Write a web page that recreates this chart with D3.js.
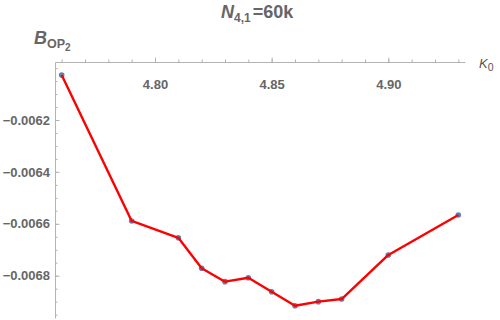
<!DOCTYPE html>
<html>
<head>
<meta charset="utf-8">
<script src="https://cdn.jsdelivr.net/npm/d3@7"></script>
<style>
  body { margin: 0; background: #fff; }
  svg { display: block; font-family: "Liberation Sans", Arial, sans-serif; }
  .tick text { fill: #666; font-size: 13px; font-weight: bold; }
  .domain, .tick line { stroke: #b3b3b3; }
</style>
</head>
<body>
<svg width="500" height="320"></svg>
<script>
// kappa0 values and measured B_OP2
const kappa = [4.76, 4.79, 4.81, 4.82, 4.83, 4.84, 4.85, 4.86, 4.87, 4.88, 4.90, 4.93];
const bop = [-0.006027, -0.006589, -0.006654, -0.006771, -0.006823, -0.006808,
  -0.006862, -0.006916, -0.0069, -0.00689, -0.00672, -0.006566];
const xTicks = [4.80, 4.85, 4.90];
const yTicks = [-0.0062, -0.0064, -0.0066, -0.0068];

const svg = d3.select("svg");

const x = d3.scaleLinear().domain([4.75714, 4.93286]).range([55, 465]);
const y = d3.scaleLinear().domain([-0.0059765, -0.006963]).range([62, 318]);

// minor ticks
const xMinor = d3.range(4.76, 4.935, 0.01).map(d => +d.toFixed(2));
const yMinor = d3.range(-0.00600, -0.00696, -0.00005).map(d => +d.toFixed(5));

svg.append("g")
  .attr("transform", "translate(0,62)")
  .call(d3.axisBottom(x).tickValues(xMinor).tickSize(-2.5).tickFormat(""))
  .call(g => g.select(".domain").remove());

svg.append("g")
  .attr("transform", "translate(55,0)")
  .call(d3.axisLeft(y).tickValues(yMinor).tickSize(-2.5).tickFormat(""))
  .call(g => g.select(".domain").remove());

svg.append("g")
  .attr("transform", "translate(0,62)")
  .call(d3.axisBottom(x).tickValues(xTicks).tickSize(-4.5).tickSizeOuter(0)
    .tickPadding(18).tickFormat(d3.format(".2f")));

svg.append("g")
  .attr("transform", "translate(55,0)")
  .call(d3.axisLeft(y).tickValues(yTicks).tickSize(-4.5).tickSizeOuter(0)
    .tickPadding(5).tickFormat(d => d3.format(".4f")(d).replace("-", "\u2212")));

// points then line
svg.append("g")
  .selectAll("circle")
  .data(kappa)
  .join("circle")
  .attr("cx", d => x(d))
  .attr("cy", (d, i) => y(bop[i]))
  .attr("r", 2.8)
  .attr("fill", "#5e81b5");

const line = d3.line()
  .x(d => x(d[0]))
  .y(d => y(d[1]));

svg.append("path")
  .datum(kappa.map((k, i) => [k, bop[i]]))
  .attr("d", line)
  .attr("fill", "none")
  .attr("stroke", "#ff0000")
  .attr("stroke-width", 2.4)
  .attr("stroke-linejoin", "round");

// title
const title = svg.append("text")
  .attr("x", 221).attr("y", 18)
  .attr("fill", "#666").attr("font-weight", "bold").attr("font-size", 18);
title.append("tspan").attr("font-style", "italic").text("N");
title.append("tspan").attr("font-size", 12).attr("dy", 4).text("4,1");
title.append("tspan").attr("dy", -4).attr("dx", 2).text("=60k");

// y label
const ylab = svg.append("text")
  .attr("x", 34).attr("y", 44)
  .attr("fill", "#666").attr("font-weight", "bold").attr("font-size", 18);
ylab.append("tspan").attr("font-style", "italic").text("B");
ylab.append("tspan").attr("font-size", 12.5).attr("dy", 4).text("OP");
ylab.append("tspan").attr("font-size", 10).attr("dy", 3).text("2");

// x label
const xlab = svg.append("text")
  .attr("x", 479).attr("y", 68)
  .attr("fill", "#555").attr("font-size", 13);
xlab.append("tspan").attr("font-style", "italic").text("K");
xlab.append("tspan").attr("font-size", 10.5).attr("dy", 3).text("0");
</script>
</body>
</html>
